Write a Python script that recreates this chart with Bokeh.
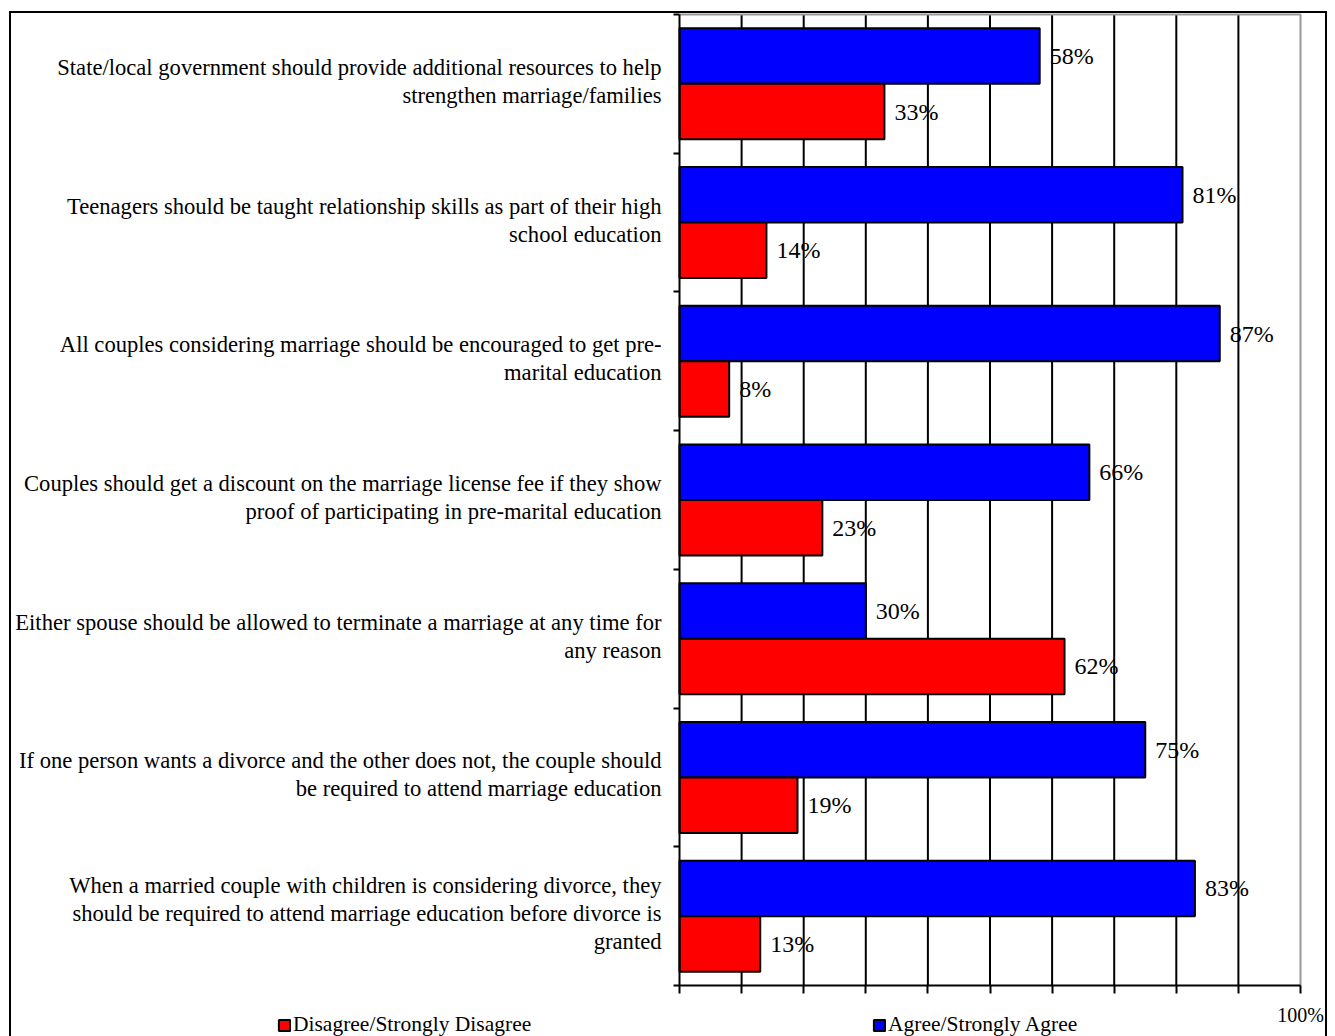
from bokeh.plotting import figure
from bokeh.models import Range1d, FixedTicker, Legend, LegendItem, ColumnDataSource
from bokeh.core.properties import value
from bokeh.embed import file_html
from bokeh.resources import INLINE

# Survey statements, top to bottom
statements = [
    "State/local government should provide additional resources to help\nstrengthen marriage/families",
    "Teenagers should be taught relationship skills as part of their high\nschool education",
    "All couples considering marriage should be encouraged to get pre-\nmarital education",
    "Couples should get a discount on the marriage license fee if they show\nproof of participating in pre-marital education",
    "Either spouse should be allowed to terminate a marriage at any time for\nany reason",
    "If one person wants a divorce and the other does not, the couple should\nbe required to attend marriage education",
    "When a married couple with children is considering divorce, they\nshould be required to attend marriage education before divorce is\ngranted",
]
agree = [58, 81, 87, 66, 30, 75, 83]
disagree = [33, 14, 8, 23, 62, 19, 13]
x_ticks = [0, 10, 20, 30, 40, 50, 60, 70, 80, 90, 100]
x_tick_labels = {100: "100%"}

SERIF = "Liberation Serif"
W, H = 1335, 1036
# pixel box of the bar area inside the page
PX_LEFT, PX_RIGHT, PX_TOP, PX_BOTTOM = 679, 1300, 14, 985

n = len(statements)
x_max = x_ticks[-1]
centers = [n - i - 0.5 for i in range(n)]

# the frame fills the whole canvas; ranges are chosen so that 0..100 and 0..n
# land on the bar area
sx = (PX_RIGHT - PX_LEFT) / x_max
sy = (PX_BOTTOM - PX_TOP) / n
x_range = Range1d(-PX_LEFT / sx, (W - PX_LEFT) / sx)
y_range = Range1d(-(H - PX_BOTTOM) / sy, n + PX_TOP / sy)

agree_src = ColumnDataSource(dict(
    y=[c + 0.2 for c in centers], v=agree, lab=[f"{v}%" for v in agree]))
dis_src = ColumnDataSource(dict(
    y=[c - 0.2 for c in centers], v=disagree, lab=[f"{v}%" for v in disagree]))
cat_src = ColumnDataSource(dict(y=centers, x=[0] * n, t=statements))
grid_src = ColumnDataSource(dict(x=x_ticks[1:-1],
                                 y0=[0] * (len(x_ticks) - 2),
                                 y1=[n] * (len(x_ticks) - 2)))

p = figure(width=W, height=H, output_backend="svg", toolbar_location=None,
           x_range=x_range, y_range=y_range,
           min_border=0)
p.border_fill_color = None
p.background_fill_color = None
p.outline_line_color = None
p.grid.visible = False
p.styles = {
    "background-color": "white",
    "background-image": ("linear-gradient(black, black), linear-gradient(black, black), "
                         "linear-gradient(black, black)"),
    "background-size": "2px 1100px, 1318px 2px, 2px 1100px",
    "background-position": "9px 11px, 9px 11px, 1325px 11px",
    "background-repeat": "no-repeat",
}

# vertical gridlines every 10%
p.segment(x0="x", x1="x", y0="y0", y1="y1", source=grid_src,
          line_color="black", line_width=2)
# grey plot-area border on the top and right
p.line(x=[0, x_max, x_max], y=[n, n, 0], line_color="#999999", line_width=2)

# x axis: ticks every 10%, only the end label shown
xa = p.xaxis[0]
xa.fixed_location = 0
xa.bounds = (0, x_max)
xa.ticker = FixedTicker(ticks=x_ticks)
xa.major_label_overrides = {t: x_tick_labels.get(t, "") for t in x_ticks}
xa.major_tick_in = 0
xa.major_tick_out = 8
xa.minor_tick_line_color = None
xa.axis_line_width = 2
xa.axis_line_color = "black"
xa.major_tick_line_width = 2
xa.major_tick_line_color = "black"
xa.major_label_text_font = SERIF
xa.major_label_text_font_size = "20px"
xa.major_label_text_color = "black"
xa.major_label_standoff = 10

# y axis: ticks at the boundaries between statements
ya = p.yaxis[0]
ya.fixed_location = 0
ya.bounds = (0, n)
ya.ticker = FixedTicker(ticks=list(range(n + 1)))
ya.major_label_overrides = {t: "" for t in range(n + 1)}
ya.major_tick_in = 0
ya.major_tick_out = 6
ya.minor_tick_line_color = None
ya.axis_line_width = 2
ya.axis_line_color = "black"
ya.major_tick_line_width = 2
ya.major_tick_line_color = "black"

r_agree = p.hbar(y="y", right="v", left=0, height=0.4, source=agree_src,
                 fill_color="#0000FF", line_color="black", line_width=2)
r_dis = p.hbar(y="y", right="v", left=0, height=0.4, source=dis_src,
               fill_color="#FF0000", line_color="black", line_width=2)

for src in (agree_src, dis_src):
    p.text(x="v", y="y", text="lab", source=src, x_offset=10,
           text_font=value(SERIF), text_font_size="24px",
           text_align="left", text_baseline="middle", text_color="black")

p.text(x="x", y="y", text="t", source=cat_src, x_offset=-18, y_offset=-2.5,
       text_font=value(SERIF), text_font_size="22.6px",
       text_align="right", text_baseline="middle",
       text_line_height=1.12, text_color="black")

def legend_for(label, renderer, loc):
    lg = Legend(items=[LegendItem(label=label, renderers=[renderer])],
                location=loc, padding=0, margin=0, spacing=0,
                glyph_width=14, glyph_height=14, label_standoff=2,
                label_text_font=SERIF, label_text_font_size="21.5px",
                label_text_color="black",
                border_line_color=None, background_fill_alpha=0)
    p.add_layout(lg, "center")

legend_for("Disagree/Strongly Disagree", r_dis, (277, -1))
legend_for("Agree/Strongly Agree", r_agree, (872, -1))

open("out.html", "w").write(file_html(p, INLINE))
